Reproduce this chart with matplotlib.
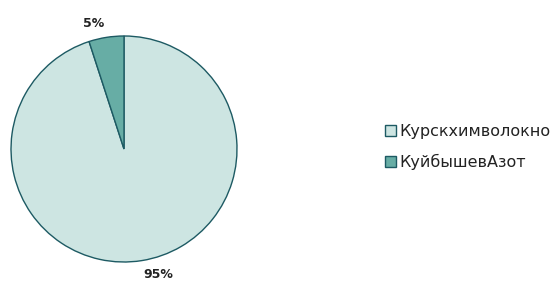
import matplotlib.pyplot as plt
from matplotlib.patches import Patch

labels = ["Курскхимволокно", "КуйбышевАзот"]
shares = [95, 5]
colors = ["#cde5e2", "#67ada5"]
edge = "#1d5a63"

W, H = 555, 281
fig = plt.figure(figsize=(W / 100, H / 100), dpi=100)

# pie centre ~ (124, 149), radius ~ 113 px
cx, cy, r = 124, 149, 113
ax = fig.add_axes([(cx - r) / W, (H - cy - r) / H, 2 * r / W, 2 * r / H])

wedges, texts = ax.pie(shares, colors=colors, startangle=90, counterclock=False,
                       labels=[f"{v}%" for v in shares], labeldistance=1.12,
                       wedgeprops=dict(edgecolor=edge, linewidth=1.0),
                       textprops=dict(fontsize=9, fontweight="bold", color="#222222"))
ax.set_xlim(-1, 1)
ax.set_ylim(-1, 1)
ax.set_aspect("equal")

handles = [Patch(facecolor=c, edgecolor=edge, linewidth=1.0) for c in colors]
fig.legend(handles, labels, loc="center left", bbox_to_anchor=(371 / W, 1 - 147 / H),
           frameon=False, fontsize=11.5, handlelength=0.65, handleheight=0.65,
           handletextpad=0.25, labelspacing=0.95, labelcolor="#222222")

fig.savefig("out.png", dpi=100)
